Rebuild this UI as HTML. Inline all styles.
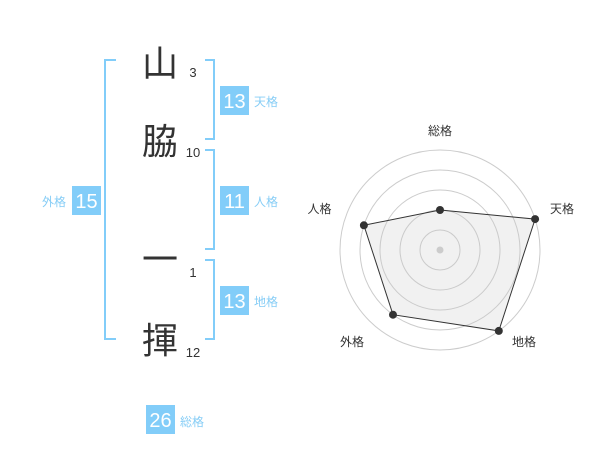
<!DOCTYPE html>
<html>
<head>
<meta charset="utf-8">
<style>
html,body{margin:0;padding:0;background:#fff;}
body{width:600px;height:470px;overflow:hidden;}
svg{display:block;}
.k{font-family:"Liberation Sans","Noto Sans CJK JP",sans-serif;font-size:36px;fill:#333;}
.n{font-family:"Liberation Sans",sans-serif;font-size:13px;fill:#333;}
.b{font-family:"Liberation Sans",sans-serif;font-size:20px;fill:#fff;}
.l{font-family:"Liberation Sans","Noto Sans CJK JP",sans-serif;font-size:12px;fill:#86cdf6;}
.r{font-family:"Liberation Sans","Noto Sans CJK JP",sans-serif;font-size:12px;fill:#333;}
</style>
</head>
<body>
<svg width="600" height="470" viewBox="0 0 600 470" xmlns="http://www.w3.org/2000/svg">
  <!-- brackets -->
  <g fill="none" stroke="#82cdf9" stroke-width="2">
    <path d="M116,60 H105 V339 H116"/>
    <path d="M205,60 H214 V139 H205"/>
    <path d="M205,150 H214 V249 H205"/>
    <path d="M205,260 H214 V339 H205"/>
  </g>

  <!-- kanji -->
  <text class="k" x="160" y="76" text-anchor="middle">山</text>
  <text class="k" x="160" y="154" text-anchor="middle">脇</text>
  <text class="k" x="160" y="272" text-anchor="middle">一</text>
  <text class="k" x="160" y="353" text-anchor="middle">揮</text>

  <!-- stroke counts -->
  <text class="n" x="193" y="77" text-anchor="middle">3</text>
  <text class="n" x="193" y="157" text-anchor="middle">10</text>
  <text class="n" x="193" y="277" text-anchor="middle">1</text>
  <text class="n" x="193" y="357" text-anchor="middle">12</text>

  <!-- boxes -->
  <g fill="#82cdf9">
    <rect x="220" y="86" width="29" height="29"/>
    <rect x="220" y="186" width="29" height="29"/>
    <rect x="220" y="286" width="29" height="29"/>
    <rect x="72" y="186" width="29" height="29"/>
    <rect x="146" y="405" width="29" height="29"/>
  </g>
  <text class="b" x="234.5" y="108" text-anchor="middle">13</text>
  <text class="b" x="234.5" y="208" text-anchor="middle">11</text>
  <text class="b" x="234.5" y="308" text-anchor="middle">13</text>
  <text class="b" x="86.5" y="208" text-anchor="middle">15</text>
  <text class="b" x="160.5" y="427" text-anchor="middle">26</text>

  <text class="l" x="254" y="106">天格</text>
  <text class="l" x="254" y="206">人格</text>
  <text class="l" x="254" y="306">地格</text>
  <text class="l" x="66" y="206" text-anchor="end">外格</text>
  <text class="l" x="180" y="426">総格</text>

  <!-- radar -->
  <g fill="none" stroke="#cccccc" stroke-width="1">
    <circle cx="440" cy="250" r="20"/>
    <circle cx="440" cy="250" r="40"/>
    <circle cx="440" cy="250" r="60"/>
    <circle cx="440" cy="250" r="80"/>
    <circle cx="440" cy="250" r="100"/>
  </g>
  <polygon points="440,210 535.1,219.1 498.8,330.9 393,314.7 363.9,225.3" fill="rgba(200,200,200,0.25)" stroke="#333" stroke-width="1"/>
  <circle cx="440" cy="250" r="3.5" fill="#cccccc"/>
  <g fill="#333">
    <circle cx="440" cy="210" r="4"/>
    <circle cx="535.1" cy="219.1" r="4"/>
    <circle cx="498.8" cy="330.9" r="4"/>
    <circle cx="393" cy="314.7" r="4"/>
    <circle cx="363.9" cy="225.3" r="4"/>
  </g>
  <text class="r" x="440" y="135" text-anchor="middle">総格</text>
  <text class="r" x="562" y="213" text-anchor="middle">天格</text>
  <text class="r" x="524" y="346" text-anchor="middle">地格</text>
  <text class="r" x="352" y="346" text-anchor="middle">外格</text>
  <text class="r" x="319.5" y="213" text-anchor="middle">人格</text>
</svg>
</body>
</html>
